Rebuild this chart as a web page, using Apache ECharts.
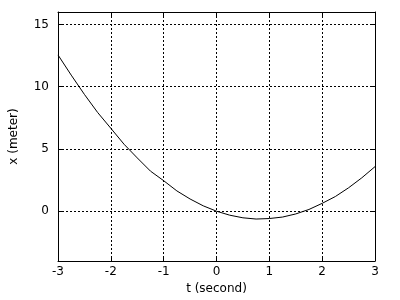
<!DOCTYPE html>
<html>
<head>
<meta charset="utf-8">
<script src="https://cdn.jsdelivr.net/npm/echarts@6/dist/echarts.min.js"></script>
<style>html,body{margin:0;padding:0;background:#fff;}#c{width:400px;height:300px;}</style>
</head>
<body>
<div id="c"></div>
<script>
// time (second)
const tValues = [-3, -2.75, -2.5, -2.25, -2, -1.75, -1.5, -1.25, -1, -0.75, -0.5, -0.25, 0,
                 0.25, 0.5, 0.75, 1, 1.25, 1.5, 1.75, 2, 2.25, 2.5, 2.75, 3];
// position x (meter)
const xValues = [12.55, 10.93, 9.38, 7.93, 6.66, 5.38, 4.28, 3.22, 2.45, 1.63, 0.98, 0.43, 0,
                 -0.32, -0.53, -0.63, -0.59, -0.47, -0.22, 0.14, 0.63, 1.18, 1.88, 2.68, 3.58];
const xTicks = [-3, -2, -1, 0, 1, 2, 3];
const yTicks = [0, 5, 10, 15];

const font = 'DejaVu Sans';
const dash = { color: '#000', width: 1, type: [2, 2] };
const edge = { show: true, onZero: false, lineStyle: { color: '#000', width: 1 } };

const chart = echarts.init(document.getElementById('c'), null, { renderer: 'canvas' });
chart.setOption({
  animation: false,
  backgroundColor: '#fff',
  grid: { left: 56, right: 25, top: 12, bottom: 39, show: false },
  xAxis: [{
    type: 'value', min: -3, max: 3, interval: 1,
    name: 't (second)', nameLocation: 'middle', nameGap: 22,
    nameTextStyle: { fontFamily: font, fontSize: 12, color: '#000' },
    axisLine: edge,
    axisTick: { show: true, inside: true, length: 4, lineStyle: { color: '#000' } },
    axisLabel: { fontFamily: font, fontSize: 12, color: '#000', margin: 5 },
    splitLine: { show: true, lineStyle: dash }
  }, {
    type: 'value', min: -3, max: 3, interval: 1, position: 'top',
    axisLine: edge,
    axisTick: { show: true, inside: true, length: 4, lineStyle: { color: '#000' } },
    axisLabel: { show: false }, splitLine: { show: false }
  }],
  yAxis: [{
    type: 'value', min: -4, max: 16,
    name: 'x (meter)', nameLocation: 'middle', nameGap: 38, nameRotate: 90,
    nameTextStyle: { fontFamily: font, fontSize: 12, color: '#000' },
    axisLine: edge,
    axisTick: { show: true, inside: true, length: 4, lineStyle: { color: '#000' }, customValues: yTicks },
    axisLabel: { fontFamily: font, fontSize: 12, color: '#000', margin: 9, customValues: yTicks },
    splitLine: { show: true, lineStyle: dash }
  }, {
    type: 'value', min: -4, max: 16, position: 'right',
    axisLine: edge,
    axisTick: { show: true, inside: true, length: 4, lineStyle: { color: '#000' }, customValues: yTicks },
    axisLabel: { show: false, customValues: yTicks }, splitLine: { show: false }
  }],
  series: [{
    type: 'line',
    data: tValues.map((t, i) => [t, xValues[i]]),
    showSymbol: false, symbol: 'none', smooth: false,
    lineStyle: { color: '#000', width: 1 },
    z: 5
  }]
});
</script>
</body>
</html>
